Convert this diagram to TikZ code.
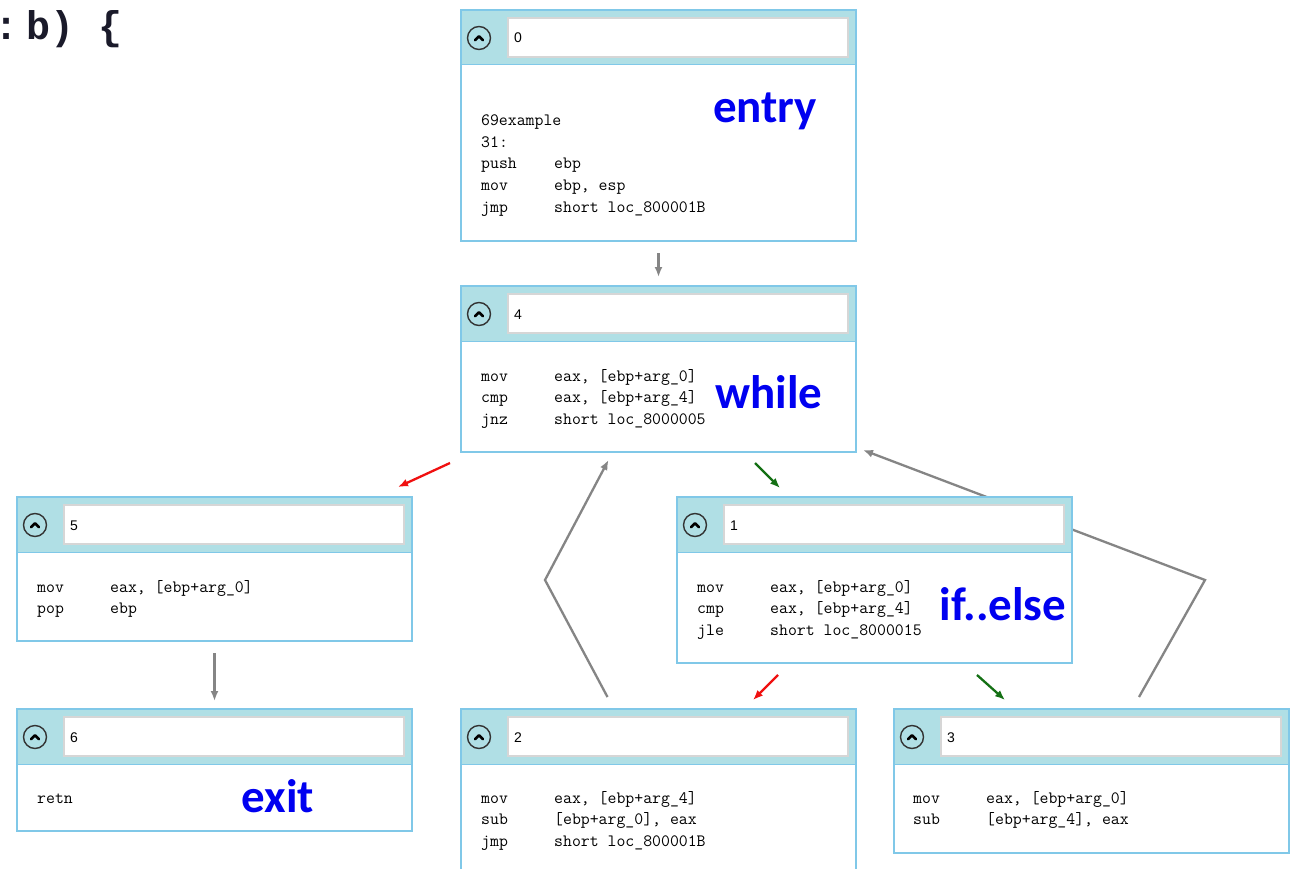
\documentclass[tikz,border=0pt]{standalone}
\usepackage{fontspec}
\setmainfont{Liberation Sans}
\newfontfamily\codefont{Liberation Mono}
\newfontfamily\lblfont{Carlito}
\usetikzlibrary{calc,arrows.meta,backgrounds}
\definecolor{headfill}{HTML}{B0DFE5}
\definecolor{bordcol}{HTML}{80C8E8}
\definecolor{fieldbd}{HTML}{D6D6D6}
\definecolor{lblblue}{HTML}{0000F0}
\definecolor{edgegray}{HTML}{858585}
\definecolor{edgered}{HTML}{F01010}
\definecolor{edgegreen}{HTML}{147014}
\definecolor{fragcol}{HTML}{1A1A2A}
\newcommand{\opcol}[1]{\makebox[73pt][l]{#1}}
\newcommand{\blk}[6]{%
  \node[blockbox, minimum width=#4, minimum height=#5, anchor=north west] (#1) at (#2,#3) {};
  \fill[headfill] (#1.north west) rectangle ($(#1.north east)+(0,55)$);
  \draw[bordcol, line width=1pt] ($(#1.north west)+(0,55)$) -- ($(#1.north east)+(0,55)$);
  \draw[bordcol, line width=1.3pt] (#1.north west) rectangle (#1.south east);
  \draw[fieldbd, line width=1.4pt, fill=white] ($(#1.north west)+(47,8)$) rectangle ($(#1.north east)+(-8,47)$);
  \draw[line width=1.4pt, black!80] ($(#1.north west)+(18,28)$) circle (11.5pt);
  \draw[line width=2.6pt, line cap=round, line join=round] ($(#1.north west)+(14,30.2)$) -- ++(4,-4) -- ++(4,4);
  \node[numtxt] (#1num) at ($(#1.north west)+(53,33)$) {#6};
}
\begin{document}
\begin{tikzpicture}[x=1pt,y=-1pt,
  blockbox/.style={draw=none, fill=white, inner sep=0pt, outer sep=0pt},
  numtxt/.style={anchor=base west, inner sep=0pt, font=\fontsize{14}{14}\selectfont},
  codetxt/.style={anchor=base west, inner sep=0pt, font=\fontsize{17.3}{17.3}\selectfont\ttfamily, text=black},
  lbl/.style={anchor=base, inner sep=0pt, text=lblblue, font=\fontsize{47}{47}\selectfont\lblfont\bfseries},
  gedge/.style={draw=edgegray, line width=2.3pt, -{Latex[length=10pt,width=8pt]}},
  redge/.style={draw=edgered, line width=2.3pt, -{Latex[length=10pt,width=8pt]}},
  kedge/.style={draw=edgegreen, line width=2.3pt, -{Latex[length=10pt,width=8pt]}}]
\useasboundingbox (0,0) rectangle (1292,869);
\clip (0,0) rectangle (1292,869);

% fragment of source code
\node[anchor=base west, inner sep=0pt, text=fragcol, font=\fontsize{40}{40}\selectfont\codefont\bfseries] (frag) at (0,40) {\kern-6pt:\kern-16pt\ b) \{};

% blocks
\blk{n0}{461}{10}{395}{231}{0}
\blk{n4}{461}{286}{395}{166}{4}
\blk{n5}{17}{497}{395}{144}{5}
\blk{n1}{677}{497}{395}{166}{1}
\blk{n6}{17}{709}{395}{122}{6}
\blk{n2}{461}{709}{395}{180}{2}
\blk{n3}{894}{709}{395}{144}{3}

% code
\node[codetxt] (c01) at (481,126) {69example};
\node[codetxt] (c02) at (481,147.5) {31:};
\node[codetxt] (c03) at (481,169) {\opcol{push}ebp};
\node[codetxt] (c04) at (481,190.5) {\opcol{mov}ebp, esp};
\node[codetxt] (c05) at (481,212) {\opcol{jmp}short loc\_800001B};

\node[codetxt] (c41) at (481,381) {\opcol{mov}eax, [ebp+arg\_0]};
\node[codetxt] (c42) at (481,402.5) {\opcol{cmp}eax, [ebp+arg\_4]};
\node[codetxt] (c43) at (481,424) {\opcol{jnz}short loc\_8000005};

\node[codetxt] (c51) at (37,592) {\opcol{mov}eax, [ebp+arg\_0]};
\node[codetxt] (c52) at (37,613.5) {\opcol{pop}ebp};

\node[codetxt] (c11) at (697,592) {\opcol{mov}eax, [ebp+arg\_0]};
\node[codetxt] (c12) at (697,613.5) {\opcol{cmp}eax, [ebp+arg\_4]};
\node[codetxt] (c13) at (697,635) {\opcol{jle}short loc\_8000015};

\node[codetxt] (c61) at (37,803) {retn};

\node[codetxt] (c21) at (481,803) {\opcol{mov}eax, [ebp+arg\_4]};
\node[codetxt] (c22) at (481,824.5) {\opcol{sub}[ebp+arg\_0], eax};
\node[codetxt] (c23) at (481,846) {\opcol{jmp}short loc\_800001B};

\node[codetxt] (c31) at (913,803) {\opcol{mov}eax, [ebp+arg\_0]};
\node[codetxt] (c32) at (913,824.5) {\opcol{sub}[ebp+arg\_4], eax};

% labels
\node[lbl] (lentry) at (765,123) {entry};
\node[lbl] (lwhile) at (769,408) {while};
\node[lbl] (lifelse) at (1003,620) {if..else};
\node[lbl] (lexit) at (278,812) {exit};

% edges
\coordinate (b24) at (545,580);
\coordinate (b34) at (1205,580);
\begin{pgfonlayer}{background}
\fill[white] (0,0) rectangle (1292,869);
\draw[gedge] ($(n3.north)+(47.5,-12)$) -- (b34) -- ($(n4.south east)+(7,-2)$);
\end{pgfonlayer}
\draw[gedge] ($(n0.south)+(0,12)$) -- ($(n4.north)+(0,-9)$);
\draw[redge] ($(n4.south west)+(-11,11)$) -- ($(n5.north east)+(-14,-10)$);
\draw[kedge] ($(n4.south east)+(-101,11)$) -- ($(n1.north west)+(103,-9)$);
\draw[gedge] ($(n5.south)+(0,12)$) -- ($(n6.north)+(0,-8)$);
\draw[redge] ($(n1.south west)+(101,12)$) -- ($(n2.north east)+(-103,-9)$);
\draw[kedge] ($(n1.south east)+(-95,12)$) -- ($(n3.north west)+(111,-9)$);
\draw[gedge] ($(n2.north)+(-51,-12)$) -- (b24) -- ($(n4.south)+(-50,8)$);
\end{tikzpicture}
\end{document}
